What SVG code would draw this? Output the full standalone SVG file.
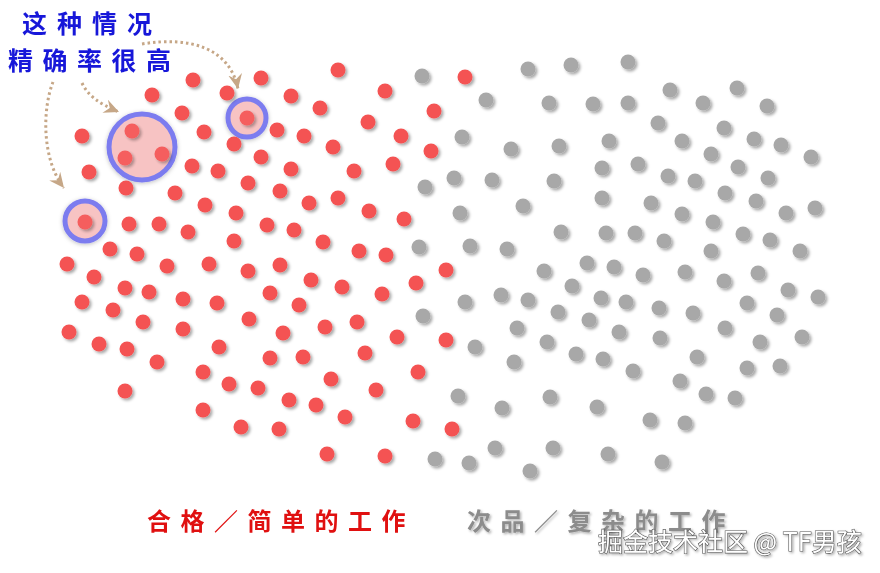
<svg xmlns="http://www.w3.org/2000/svg" xmlns:xlink="http://www.w3.org/1999/xlink" width="880" height="573" viewBox="0 0 880 573">
<style>
.r{fill:#f45252}
.g{fill:#a8a8a8}
.ring{fill:#f7c3c3;stroke:#7c7cef;stroke-width:5}
.arr{fill:none;stroke:#c6a787;stroke-width:3;stroke-dasharray:2.5 3;marker-end:url(#ah)}
.cjk{font-family:"Noto Sans CJK SC","Noto Sans CJK JP",sans-serif;font-weight:700}
</style>
<defs>
<filter id="sh" x="-20%" y="-20%" width="140%" height="140%">
<feDropShadow dx="2" dy="2" stdDeviation="1.6" flood-color="#000" flood-opacity="0.35"/>
</filter>
<filter id="sh2" x="-20%" y="-20%" width="140%" height="140%">
<feDropShadow dx="0" dy="1" stdDeviation="2" flood-color="#000" flood-opacity="0.25"/>
</filter>
<filter id="tsh" x="-10%" y="-30%" width="120%" height="160%">
<feDropShadow dx="1.5" dy="1.5" stdDeviation="1" flood-color="#000" flood-opacity="0.3"/>
</filter>
<marker id="ah" markerUnits="userSpaceOnUse" markerWidth="16" markerHeight="14" refX="15" refY="7" orient="auto">
<path d="M0,0 L15,7 L0,14 L5,7 z" fill="#c6a787"/>
</marker>
<circle id="d" r="7.5"/>
</defs>
<rect width="880" height="573" fill="#fff"/>

<g id="highlights" filter="url(#sh2)">
<circle class="ring" cx="142" cy="147" r="33"/>
<circle class="ring" cx="247" cy="118" r="19"/>
<circle class="ring" cx="85" cy="221" r="20"/>
</g>

<g id="red-dots" class="r" filter="url(#sh)">
<use href="#d" x="338" y="70"/><use href="#d" x="193" y="80"/><use href="#d" x="261" y="78"/><use href="#d" x="385" y="91"/><use href="#d" x="465" y="77"/>
<use href="#d" x="152" y="95"/><use href="#d" x="227" y="93"/><use href="#d" x="291" y="96"/><use href="#d" x="320" y="108"/><use href="#d" x="434" y="111"/>
<use href="#d" x="182" y="113"/><use href="#d" x="204" y="132"/><use href="#d" x="277" y="130"/><use href="#d" x="304" y="136"/><use href="#d" x="368" y="122"/>
<use href="#d" x="401" y="136"/><use href="#d" x="82" y="136"/><use href="#d" x="234" y="144"/><use href="#d" x="333" y="147"/><use href="#d" x="431" y="151"/>
<use href="#d" x="261" y="157"/><use href="#d" x="393" y="164"/><use href="#d" x="89" y="172"/><use href="#d" x="192" y="166"/><use href="#d" x="218" y="171"/>
<use href="#d" x="291" y="169"/><use href="#d" x="354" y="171"/><use href="#d" x="126" y="188"/><use href="#d" x="175" y="193"/><use href="#d" x="248" y="183"/>
<use href="#d" x="280" y="191"/><use href="#d" x="338" y="198"/><use href="#d" x="309" y="203"/><use href="#d" x="205" y="205"/><use href="#d" x="236" y="213"/>
<use href="#d" x="369" y="211"/><use href="#d" x="404" y="219"/><use href="#d" x="129" y="224"/><use href="#d" x="159" y="224"/><use href="#d" x="188" y="232"/>
<use href="#d" x="267" y="225"/><use href="#d" x="294" y="230"/><use href="#d" x="234" y="241"/><use href="#d" x="323" y="242"/><use href="#d" x="110" y="249"/>
<use href="#d" x="137" y="254"/><use href="#d" x="359" y="251"/><use href="#d" x="386" y="255"/><use href="#d" x="67" y="264"/><use href="#d" x="167" y="266"/>
<use href="#d" x="209" y="264"/><use href="#d" x="280" y="265"/><use href="#d" x="248" y="271"/><use href="#d" x="446" y="270"/><use href="#d" x="94" y="277"/>
<use href="#d" x="125" y="288"/><use href="#d" x="149" y="292"/><use href="#d" x="311" y="280"/><use href="#d" x="342" y="287"/><use href="#d" x="416" y="283"/>
<use href="#d" x="82" y="302"/><use href="#d" x="183" y="299"/><use href="#d" x="217" y="303"/><use href="#d" x="270" y="293"/><use href="#d" x="382" y="294"/>
<use href="#d" x="113" y="310"/><use href="#d" x="299" y="305"/><use href="#d" x="143" y="322"/><use href="#d" x="69" y="332"/><use href="#d" x="183" y="329"/>
<use href="#d" x="249" y="319"/><use href="#d" x="283" y="333"/><use href="#d" x="325" y="327"/><use href="#d" x="357" y="322"/><use href="#d" x="397" y="337"/>
<use href="#d" x="446" y="340"/><use href="#d" x="99" y="344"/><use href="#d" x="127" y="349"/><use href="#d" x="219" y="347"/><use href="#d" x="270" y="358"/>
<use href="#d" x="303" y="357"/><use href="#d" x="365" y="353"/><use href="#d" x="157" y="362"/><use href="#d" x="203" y="372"/><use href="#d" x="418" y="372"/>
<use href="#d" x="229" y="384"/><use href="#d" x="331" y="379"/><use href="#d" x="125" y="391"/><use href="#d" x="258" y="388"/><use href="#d" x="376" y="390"/>
<use href="#d" x="289" y="400"/><use href="#d" x="316" y="405"/><use href="#d" x="203" y="410"/><use href="#d" x="345" y="417"/><use href="#d" x="413" y="421"/>
<use href="#d" x="452" y="429"/><use href="#d" x="241" y="427"/><use href="#d" x="279" y="429"/><use href="#d" x="327" y="454"/><use href="#d" x="385" y="456"/>
</g>

<g id="highlighted-dots" class="r" filter="url(#sh)" opacity="0.9">
<use href="#d" x="132" y="131"/><use href="#d" x="125" y="158"/><use href="#d" x="162" y="154"/>
<use href="#d" x="247" y="118"/><use href="#d" x="85" y="222"/>
</g>

<g id="gray-dots" class="g" filter="url(#sh)">
<use href="#d" x="422" y="76"/><use href="#d" x="528" y="69"/><use href="#d" x="571" y="65"/><use href="#d" x="628" y="62"/><use href="#d" x="486" y="100"/>
<use href="#d" x="549" y="103"/><use href="#d" x="593" y="104"/><use href="#d" x="628" y="103"/><use href="#d" x="462" y="137"/><use href="#d" x="511" y="149"/>
<use href="#d" x="559" y="146"/><use href="#d" x="609" y="141"/><use href="#d" x="454" y="178"/><use href="#d" x="492" y="180"/><use href="#d" x="554" y="181"/>
<use href="#d" x="602" y="168"/><use href="#d" x="638" y="164"/><use href="#d" x="425" y="187"/><use href="#d" x="523" y="206"/><use href="#d" x="602" y="198"/>
<use href="#d" x="651" y="203"/><use href="#d" x="460" y="213"/><use href="#d" x="561" y="232"/><use href="#d" x="606" y="233"/><use href="#d" x="635" y="233"/>
<use href="#d" x="470" y="246"/><use href="#d" x="507" y="249"/><use href="#d" x="419" y="247"/><use href="#d" x="587" y="263"/><use href="#d" x="614" y="267"/>
<use href="#d" x="544" y="271"/><use href="#d" x="643" y="275"/>
<use href="#d" x="670" y="90"/><use href="#d" x="737" y="88"/><use href="#d" x="703" y="103"/><use href="#d" x="767" y="106"/><use href="#d" x="658" y="123"/>
<use href="#d" x="724" y="128"/><use href="#d" x="682" y="141"/><use href="#d" x="754" y="139"/><use href="#d" x="781" y="145"/><use href="#d" x="711" y="154"/>
<use href="#d" x="811" y="157"/><use href="#d" x="738" y="167"/><use href="#d" x="668" y="176"/><use href="#d" x="695" y="181"/><use href="#d" x="768" y="178"/>
<use href="#d" x="725" y="193"/><use href="#d" x="756" y="201"/><use href="#d" x="682" y="214"/><use href="#d" x="786" y="213"/><use href="#d" x="815" y="208"/>
<use href="#d" x="713" y="222"/><use href="#d" x="743" y="234"/><use href="#d" x="770" y="240"/><use href="#d" x="664" y="241"/><use href="#d" x="711" y="251"/>
<use href="#d" x="800" y="251"/><use href="#d" x="685" y="272"/><use href="#d" x="758" y="273"/>
<use href="#d" x="724" y="281"/><use href="#d" x="788" y="290"/><use href="#d" x="818" y="297"/><use href="#d" x="659" y="308"/><use href="#d" x="693" y="313"/>
<use href="#d" x="747" y="303"/><use href="#d" x="777" y="315"/><use href="#d" x="660" y="338"/><use href="#d" x="725" y="328"/><use href="#d" x="760" y="342"/>
<use href="#d" x="802" y="337"/><use href="#d" x="697" y="357"/><use href="#d" x="747" y="368"/><use href="#d" x="780" y="366"/><use href="#d" x="680" y="381"/>
<use href="#d" x="706" y="394"/><use href="#d" x="735" y="398"/><use href="#d" x="650" y="420"/><use href="#d" x="685" y="423"/><use href="#d" x="662" y="462"/>
<use href="#d" x="572" y="286"/><use href="#d" x="465" y="302"/><use href="#d" x="501" y="295"/><use href="#d" x="528" y="300"/><use href="#d" x="558" y="312"/>
<use href="#d" x="601" y="298"/><use href="#d" x="626" y="302"/><use href="#d" x="589" y="320"/><use href="#d" x="517" y="328"/><use href="#d" x="619" y="332"/>
<use href="#d" x="547" y="342"/><use href="#d" x="475" y="347"/><use href="#d" x="576" y="354"/><use href="#d" x="603" y="359"/><use href="#d" x="514" y="362"/>
<use href="#d" x="633" y="371"/><use href="#d" x="458" y="396"/><use href="#d" x="550" y="397"/><use href="#d" x="502" y="408"/><use href="#d" x="597" y="407"/>
<use href="#d" x="495" y="448"/><use href="#d" x="553" y="448"/><use href="#d" x="608" y="454"/><use href="#d" x="469" y="463"/><use href="#d" x="530" y="471"/>
<use href="#d" x="423" y="316"/><use href="#d" x="435" y="459"/>
</g>

<g id="connectors">
<path class="arr" d="M53,82 C42,110 42,160 64,188"/>
<path class="arr" d="M82,83 C88,96 100,104 119,112"/>
<path class="arr" d="M142,44 C190,36 230,48 238,89"/>
</g>

<g id="labels" class="cjk">
<text x="22" y="33" font-size="25" letter-spacing="10" fill="#1717d9">这种情况</text>
<text x="8" y="70" font-size="25" letter-spacing="9.5" fill="#1717d9">精确率很高</text>
<text x="147" y="530" font-size="24" letter-spacing="9.5" fill="#e01010">合格／简单的工作</text>
<text x="467" y="530" font-size="24" letter-spacing="9.5" fill="#8c8c8c" filter="url(#tsh)">次品／复杂的工作</text>
</g>

<g id="watermark">
<text x="598" y="551" font-family="'Noto Sans CJK SC','Noto Sans CJK JP',sans-serif" font-size="25" fill="#fff" stroke="#555" stroke-width="1.2" paint-order="stroke" filter="url(#tsh)">掘金技术社区 @ TF男孩</text>
</g>
</svg>
